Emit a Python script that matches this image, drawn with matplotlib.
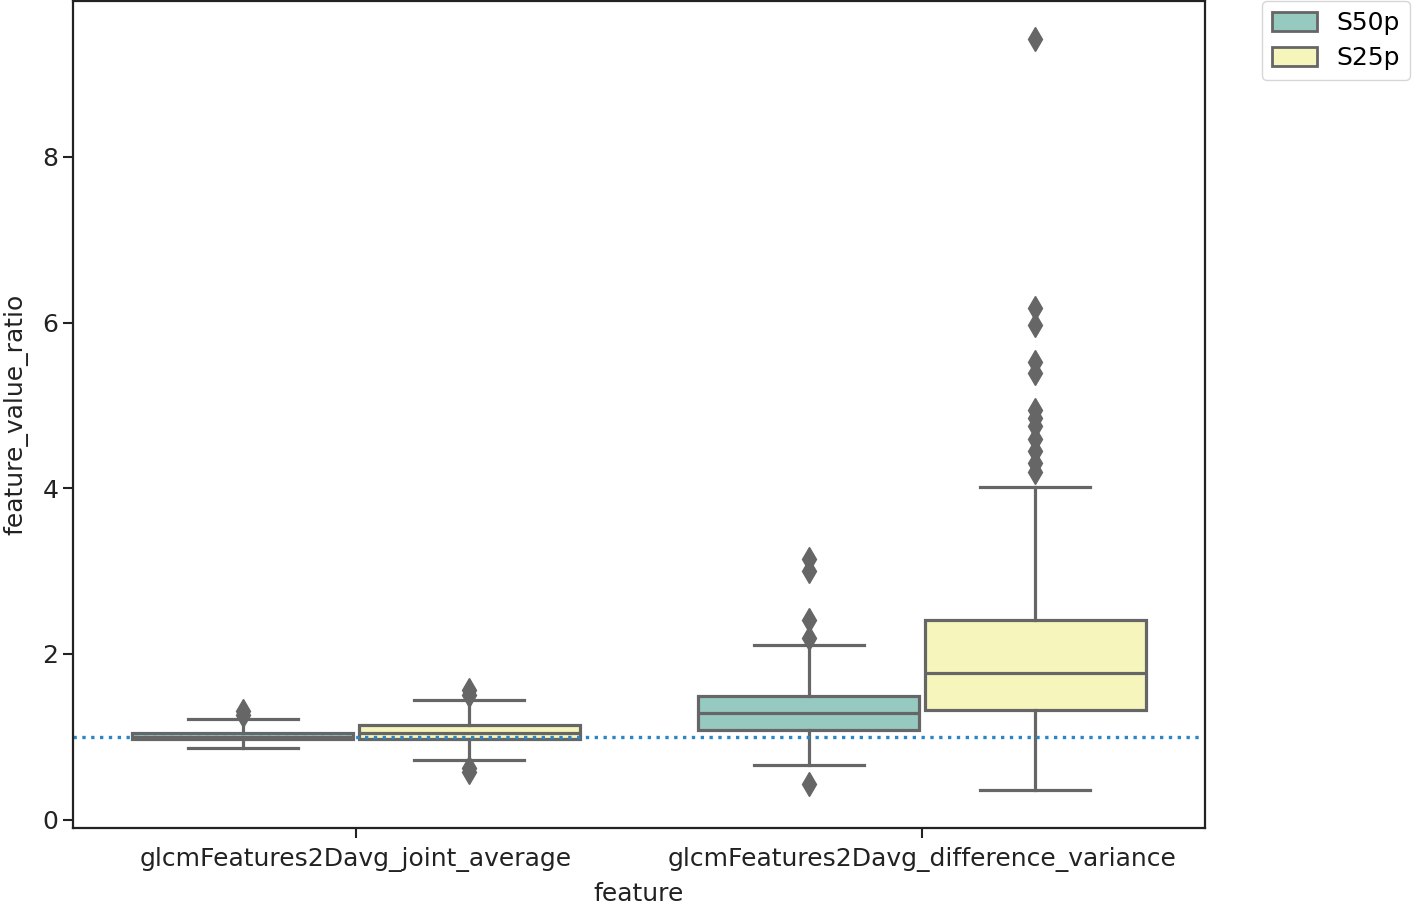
import colorsys

import matplotlib
matplotlib.use('Agg')
from matplotlib import pyplot as plt
from matplotlib.colors import to_rgb

features = ['glcmFeatures2Davg_joint_average', 'glcmFeatures2Davg_difference_variance']
groups = ['S50p', 'S25p']

# box stats per feature, per group (S50p, S25p)
q1 = [[0.97, 0.98], [1.08, 1.32]]
med = [[1.00, 1.05], [1.29, 1.77]]
q3 = [[1.05, 1.14], [1.49, 2.41]]
whis_lo = [[0.86, 0.72], [0.66, 0.36]]
whis_hi = [[1.22, 1.44], [2.11, 4.02]]
fliers = [
    [[1.26, 1.31], [0.57, 0.62, 1.50, 1.57]],
    [[0.43, 2.19, 2.41, 3.00, 3.15],
     [4.20, 4.30, 4.45, 4.60, 4.75, 4.85, 4.95, 5.39, 5.52, 5.97, 6.17, 9.42]],
]
ref_value = 1.0

palette = ['#8dd3c7', '#ffffb3']


def desat(c, prop=0.75):
    h, l, s = colorsys.rgb_to_hls(*to_rgb(c))
    return colorsys.hls_to_rgb(h, l, s * prop)


edge = '#666666'
fig = plt.figure(figsize=(14.16, 9.05), dpi=100)
ax = fig.add_axes([73 / 1416, 77 / 905, 1132 / 1416, 827 / 905])

box_w = 0.39
for i in range(len(features)):
    for j, g in enumerate(groups):
        stats = [{'q1': q1[i][j], 'med': med[i][j], 'q3': q3[i][j],
                  'whislo': whis_lo[i][j], 'whishi': whis_hi[i][j],
                  'fliers': fliers[i][j]}]
        pos = i + (j - 0.5) * 0.4
        ax.bxp(stats, positions=[pos], widths=box_w, patch_artist=True,
               boxprops=dict(facecolor=desat(palette[j]), edgecolor=edge, linewidth=2.3),
               medianprops=dict(color=edge, linewidth=2.3),
               whiskerprops=dict(color=edge, linewidth=2.3),
               capprops=dict(color=edge, linewidth=2.3),
               flierprops=dict(marker='d', markersize=12, markerfacecolor=edge,
                               markeredgecolor=edge, linestyle='none'),
               manage_ticks=False)

ax.axhline(ref_value, linestyle=':', color='#2a86c6', linewidth=2.4)

ax.set_xlim(-0.5, 1.5)
ax.set_ylim(-0.1, 9.88)
ax.set_xticks(range(len(features)))
ax.set_xticklabels(features)
ax.set_yticks([0, 2, 4, 6, 8])
ax.tick_params(labelsize=18, length=7, width=1.5, colors='#222222')
ax.tick_params(axis='x', pad=7)
ax.set_xlabel('feature', fontsize=18, labelpad=7, color='#222222')
ax.set_ylabel('feature_value_ratio', fontsize=18, labelpad=10, color='#222222')
for s in ax.spines.values():
    s.set_linewidth(1.6)
    s.set_color('#222222')

handles = [plt.Rectangle((0, 0), 1, 1, facecolor=desat(palette[j]), edgecolor=edge, linewidth=2)
           for j in range(len(groups))]
ax.legend(handles, groups, loc='upper left', bbox_to_anchor=(1.05, 1), borderaxespad=0,
          fontsize=18, handlelength=1.8, handleheight=0.8, labelspacing=0.45)

fig.savefig('out.png', dpi=100)
